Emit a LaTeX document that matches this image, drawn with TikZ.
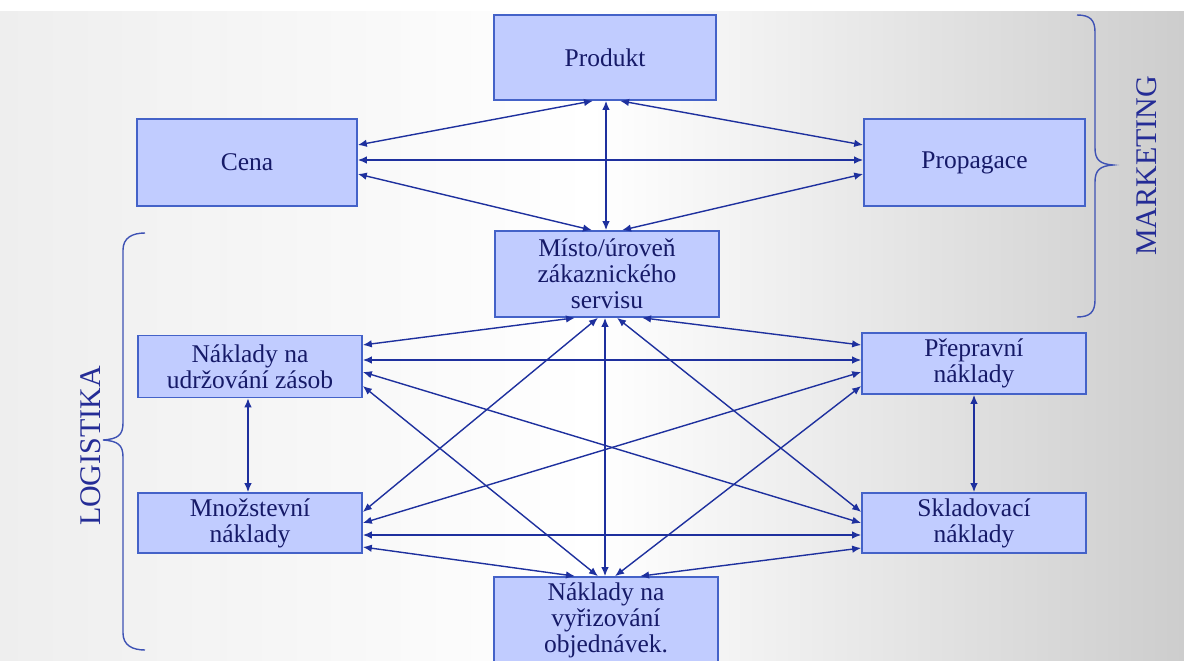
\documentclass[tikz,border=0pt]{standalone}
\usepackage{fontspec}
\setmainfont{Liberation Serif}
\usetikzlibrary{arrows.meta,calc}
\definecolor{boxfill}{RGB}{193,204,255}
\definecolor{boxline}{RGB}{68,98,200}
\definecolor{arrowcol}{RGB}{30,48,158}
\definecolor{txtcol}{RGB}{22,26,104}
\definecolor{labcol}{RGB}{36,44,150}
\definecolor{bracecol}{RGB}{62,82,180}
\definecolor{bgleft}{RGB}{238,238,238}
\definecolor{bgright}{RGB}{205,205,205}
\begin{document}
\begin{tikzpicture}[x=1pt,y=-1pt,
  box/.style={draw=boxline, line width=1.6pt, fill=boxfill, text=txtcol,
    font=\fontsize{25.5}{26}\selectfont, align=center, inner sep=0pt},
  link/.style={draw=arrowcol, line width=1.4pt,
    {Latex[length=9pt,width=7.5pt]}-{Latex[length=9pt,width=7.5pt]}},
  bracestyle/.style={draw=bracecol, line width=1.4pt},
  grouplabel/.style={text=labcol, font=\fontsize{30}{32}\selectfont, rotate=90, inner sep=0pt}]
\useasboundingbox (0,0) rectangle (1184,661);
\fill[white] (0,0) rectangle (1184,661);
\shade[left color=bgleft, right color=bgright, middle color=white] (0,12) rectangle (1184,661);

% marketing nodes
\node[box, minimum width=222pt, minimum height=85pt] (produkt) at (605,57.5) {Produkt};
\node[box, minimum width=220pt, minimum height=87pt] (cena) at (247,162.5) {Cena};
\node[box, minimum width=221pt, minimum height=87pt] (propagace) at (974.5,162.5) {Propagace};
\node[box, minimum width=224pt, minimum height=86pt] (misto) at (607,274) {Místo/úroveň\\zákaznického\\servisu};

% logistics nodes
\node[box, minimum width=224pt, minimum height=62pt] (nu) at (250,366.5) {Náklady na\\udržování zásob};
\node[box, minimum width=224pt, minimum height=60pt] (mn) at (250,523) {Množstevní\\náklady};
\node[box, minimum width=224pt, minimum height=61pt] (pr) at (974,363.5) {Přepravní\\náklady};
\node[box, minimum width=224pt, minimum height=60pt] (sk) at (974,523) {Skladovací\\náklady};
\node[box, minimum width=224pt, minimum height=86pt] (vyr) at (606,620) {Náklady na\\vyřizování\\objednávek.};

% marketing connectors
\draw[link] ([yshift=17.5pt]cena.east) -- ([xshift=-12pt]produkt.south);
\draw[link] ([yshift=2.5pt]cena.east) -- ([yshift=2.5pt]propagace.west);
\draw[link] ([yshift=-11.5pt]cena.east) -- ([xshift=-15pt]misto.north);
\draw[link] ([yshift=17.5pt]propagace.west) -- ([xshift=15pt]produkt.south);
\draw[link] ([yshift=-11.5pt]propagace.west) -- ([xshift=15pt]misto.north);
\draw[link] ([xshift=1pt]produkt.south) -- ([xshift=-1pt]misto.north);

% logistics connectors
\draw[link] ([yshift=21.5pt]nu.east) -- ([xshift=-32pt]misto.south);
\draw[link] ([yshift=6.5pt]nu.east) -- ([yshift=3.5pt]pr.west);
\draw[link] ([yshift=-5.5pt]nu.east) -- ([yshift=0pt]sk.west);
\draw[link] ([yshift=-19.5pt]nu.east) -- ([xshift=-8pt]vyr.north);
\draw[link] ([yshift=11pt]mn.east) -- ([xshift=-9pt]misto.south);
\draw[link] ([yshift=0pt]mn.east) -- ([yshift=-8.5pt]pr.west);
\draw[link] ([yshift=-12pt]mn.east) -- ([yshift=-12pt]sk.west);
\draw[link] ([yshift=-24pt]mn.east) -- ([xshift=-31pt]vyr.north);
\draw[link] ([yshift=18.5pt]pr.west) -- ([xshift=35pt]misto.south);
\draw[link] ([yshift=-22.5pt]pr.west) -- ([xshift=9pt]vyr.north);
\draw[link] ([yshift=11pt]sk.west) -- ([xshift=10pt]misto.south);
\draw[link] ([yshift=-25pt]sk.west) -- ([xshift=34pt]vyr.north);
\draw[link] ([xshift=-2pt]misto.south) -- ([xshift=-1pt]vyr.north);
\draw[link] ([xshift=-2pt]nu.south) -- ([xshift=-2pt]mn.north);
\draw[link] (pr.south) -- (sk.north);

% braces
\draw[bracestyle] (1077,15) .. controls (1090,15) and (1095,20) .. (1095,32)
  -- (1095,148) .. controls (1095,160) and (1100,164) .. (1113,165)
  .. controls (1100,166) and (1095,170) .. (1095,182)
  -- (1095,300) .. controls (1095,312) and (1090,317) .. (1077,317);
\draw[bracestyle] (145,233) .. controls (132,233) and (123,238) .. (123,250)
  -- (123,423) .. controls (123,435) and (118,439) .. (103,440)
  .. controls (118,441) and (123,445) .. (123,457)
  -- (123,633) .. controls (123,645) and (132,650) .. (145,650);

% group labels
\node[grouplabel] (marketing) at (1147,166) {MARKETING};
\node[grouplabel] (logistika) at (91,446) {LOGISTIKA};
\end{tikzpicture}
\end{document}
